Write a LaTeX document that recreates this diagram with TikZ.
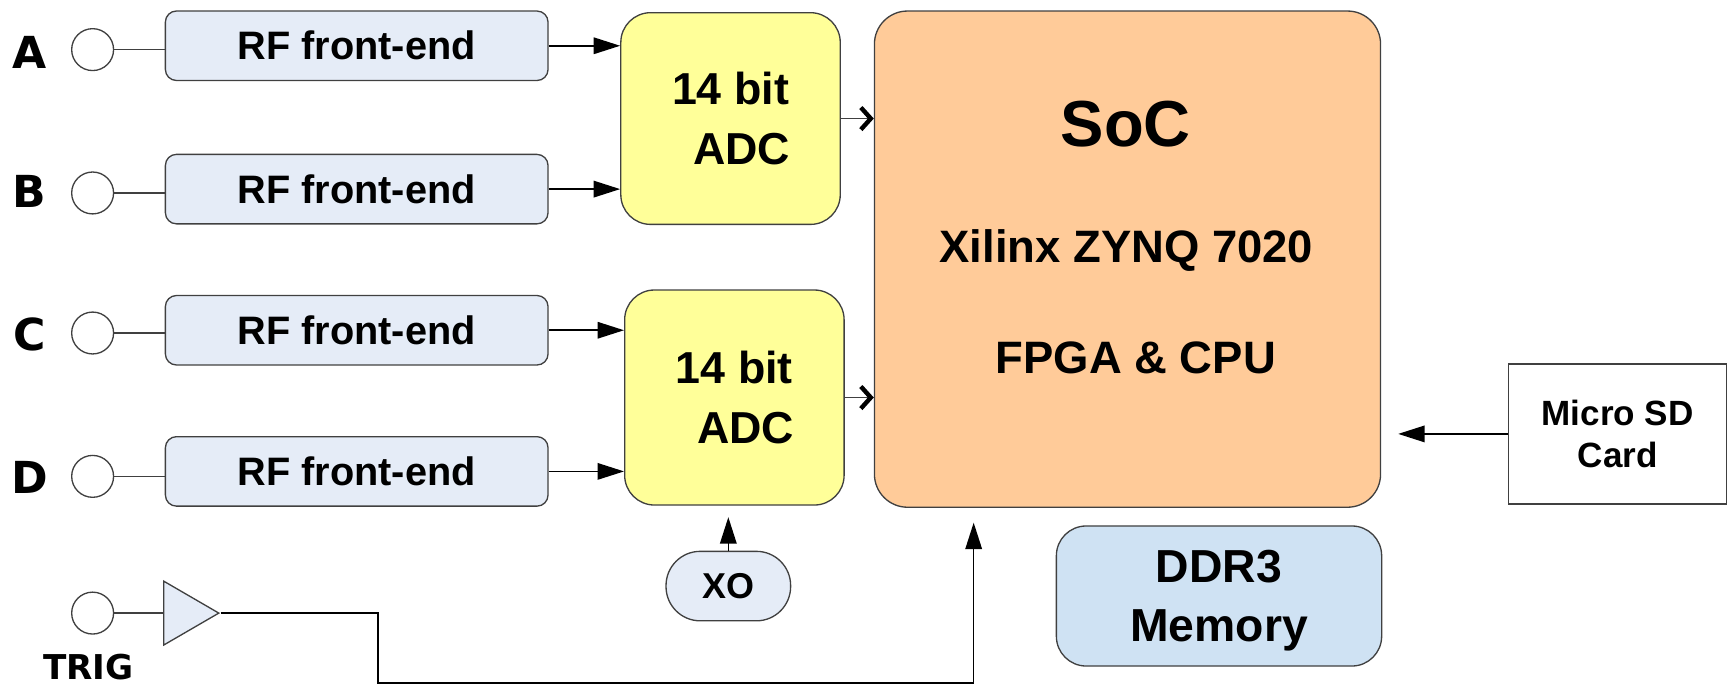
\documentclass[tikz,border=0pt]{standalone}
\usepackage{fontspec}
\setmainfont{Liberation Sans}
\newfontfamily\dejavu{DejaVu Sans}
\usetikzlibrary{arrows.meta,shapes.geometric}

\definecolor{rfblue}{HTML}{E5ECF7}
\definecolor{adcyellow}{HTML}{FFFF99}
\definecolor{socorange}{HTML}{FFCB99}
\definecolor{ddrblue}{HTML}{CFE2F3}
\definecolor{linegray}{HTML}{404040}

\tikzset{
  blk/.style={draw=linegray,line width=0.6pt,align=center,inner sep=0pt},
  rfbox/.style={blk,rounded corners=5pt,fill=rfblue,minimum width=173.5pt,minimum height=31.5pt,font=\bfseries\fontsize{18}{22}\selectfont},
  adcbox/.style={blk,rounded corners=13.5pt,fill=adcyellow,minimum width=99.5pt,minimum height=96pt,text depth=0pt,font=\bfseries\fontsize{20.3}{27}\selectfont},
  socbox/.style={blk,rounded corners=15pt,fill=socorange,minimum width=229.5pt,minimum height=225pt},
  ddrbox/.style={blk,rounded corners=13.5pt,fill=ddrblue,minimum width=147.5pt,minimum height=63.5pt,text depth=0pt,font=\bfseries\fontsize{21}{27}\selectfont},
  sdbox/.style={blk,fill=white,minimum width=99pt,minimum height=63.5pt,font=\bfseries\fontsize{15.9}{19}\selectfont},
  xobox/.style={blk,rounded corners=15.5pt,fill=rfblue,minimum width=56.5pt,minimum height=31.5pt,font=\bfseries\fontsize{16.3}{20}\selectfont},
  port/.style={circle,draw=linegray,line width=0.6pt,fill=white,minimum size=19pt,inner sep=0pt},
  ampbox/.style={isosceles triangle,isosceles triangle stretches,draw=linegray,line width=0.6pt,fill=rfblue,minimum width=29pt,minimum height=25pt,inner sep=0pt},
  chname/.style={inner sep=0pt,font=\dejavu\bfseries\fontsize{20}{24}\selectfont},
  soctext/.style={inner sep=0pt,text depth=0pt,font=\bfseries\fontsize{20.6}{25}\selectfont},
  wire/.style={draw=linegray,line width=0.7pt},
  sig/.style={draw=black,line width=0.7pt,-{Triangle[length=12pt,width=7.5pt]}},
  bus/.style={draw=linegray,line width=0.6pt,-{Straight Barb[length=4.5pt,width=10pt,line width'=2pt,color=black]}}
}

\begin{document}
\begin{tikzpicture}[x=0.5pt,y=-0.5pt]
  \useasboundingbox (0,0) rectangle (1568,621);
  \node (rfA) [rfbox] at (323.5,41.5) {RF front-end};
  \node (rfB) [rfbox] at (323.5,171.5) {RF front-end};
  \node (rfC) [rfbox] at (323.5,299.5) {RF front-end};
  \node (rfD) [rfbox] at (323.5,427.5) {RF front-end};
  \node (pA) [port] at (84,45) {};
  \node (pB) [port] at (84,175) {};
  \node (pC) [port] at (84,302) {};
  \node (pD) [port] at (84,432) {};
  \node (pT) [port] at (84,556) {};
  \node (lA) [chname] at (27,47.5) {A};
  \node (lB) [chname] at (27,173.5) {B};
  \node (lC) [chname] at (27,303) {C};
  \node (lD) [chname] at (27,433) {D};
  \node (lT) [chname,font=\dejavu\bfseries\fontsize{15.5}{18}\selectfont] at (80,605) {TRIG};
  \node (amp) [ampbox,anchor=apex] at (200,556) {};
  \node (adc1) [adcbox] at (662.5,107.5) {14 bit\\\hspace*{0.5em}ADC};
  \node (adc2) [adcbox,minimum height=97.5pt] at (666,360.5) {14 bit\\\hspace*{0.5em}ADC};
  \node (xo) [xobox] at (660.5,531.5) {XO};
  \node (soc) [socbox] at (1022.5,235) {};
  \node (socname) [soctext,font=\bfseries\fontsize{29.5}{34}\selectfont] at (1021,112.5) {SoC};
  \node (socchip) [soctext] at (1021.5,223) {Xilinx ZYNQ 7020};
  \node (socfab) [soctext] at (1030,324) {FPGA \& CPU};
  \node (ddr) [ddrbox] at (1105.5,540.5) {DDR3\\Memory};
  \node (sd) [sdbox] at (1467,393.5) {Micro SD\\Card};
  \coordinate (xoin) at (660.5,469);
  \coordinate (sdin) at (1268,393.5);
  \coordinate (trigin) at (883,474);

  \begin{scope}
    \path (pA) edge[wire] (pA -| rfA.west);
    \path (pB) edge[wire] (pB -| rfB.west);
    \path (pC) edge[wire] (pC -| rfC.west);
    \path (pD) edge[wire] (pD -| rfD.west);
    \path (pT) edge[wire] (amp.lower side);
    \path (rfA) edge[sig] (rfA -| adc1.west);
    \path (rfB) edge[sig] (rfB -| adc1.west);
    \path (rfC) edge[sig] (rfC -| adc2.west);
    \path (rfD) edge[sig] (rfD -| adc2.west);
    \path (adc1) edge[bus] (adc1 -| soc.west);
    \path (adc2) edge[bus] (adc2 -| soc.west);
    \path (xo) edge[sig] (xoin);
    \path (sd) edge[sig] (sdin);
    \draw[sig] (amp.apex) -| (343,619.5) -| (trigin);
  \end{scope}
\end{tikzpicture}
\end{document}
